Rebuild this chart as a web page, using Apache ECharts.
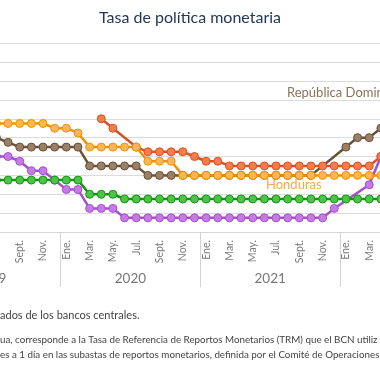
<!DOCTYPE html>
<html>
<head>
<meta charset="utf-8">
<script src="https://cdn.jsdelivr.net/npm/echarts@6/dist/echarts.min.js"></script>
<style>
html,body{margin:0;padding:0;background:#fff;}
#chart{width:380px;height:380px;}
</style>
</head>
<body>
<div id="chart"></div>
<script>
// ---- data ----
var years = ['2019', '2020', '2021', '2022'];
var monthLabels = ['Ene.', 'Feb.', 'Mar.', 'Abr.', 'May.', 'Jun.', 'Jul.', 'Ago.', 'Sept.', 'Oct.', 'Nov.', 'Dic.'];
// monthly values, Jan 2019 .. Dec 2022 (48 months); null = no observation
var costaRica = [
  null, null, null, null, null, null, 4.0, 4.0, 3.75, 3.25, 3.25, 2.75,
  2.25, 2.25, 1.25, 1.25, 1.25, 0.75, 0.75, 0.75, 0.75, 0.75, 0.75, 0.75,
  0.75, 0.75, 0.75, 0.75, 0.75, 0.75, 0.75, 0.75, 0.75, 0.75, 0.75, 1.25,
  null, null, 2.5, 4.0, null, null, null, null, null, null, null, null
];
var guatemala = [
  null, null, null, null, null, null, 2.75, 2.75, 2.75, 2.75, 2.75, 2.75,
  2.75, 2.75, 2.0, 2.0, 2.0, 1.75, 1.75, 1.75, 1.75, 1.75, 1.75, 1.75,
  1.75, 1.75, 1.75, 1.75, 1.75, 1.75, 1.75, 1.75, 1.75, 1.75, 1.75, 1.75,
  1.75, 1.75, 1.75, 1.75, null, null, null, null, null, null, null, null
];
var repDominicana = [
  null, null, null, null, null, null, 5.0, 4.75, 4.5, 4.5, 4.5, 4.5,
  4.5, 4.5, 3.5, 3.5, 3.5, 3.5, 3.5, 3.0, 3.0, 3.0, 3.0, 3.0,
  3.0, 3.0, 3.0, 3.0, 3.0, 3.0, 3.0, 3.0, 3.0, 3.0, null, null,
  4.5, 5.0, 5.0, 5.5, null, null, null, null, null, null, null, null
];
var nicaragua = [
  null, null, null, null, null, null, null, null, null, null, null, null,
  null, null, null, 6.0, 5.5, null, 4.5, 4.25, 4.25, 4.25, 4.25, 4.0,
  3.75, 3.75, 3.5, 3.5, 3.5, 3.5, 3.5, 3.5, 3.5, 3.5, 3.5, 3.5,
  3.5, 3.5, 3.5, 4.0, null, null, null, null, null, null, null, null
];
var honduras = [
  null, null, null, null, null, null, 5.75, 5.75, 5.75, 5.75, 5.75, 5.5,
  5.5, 5.25, 4.5, 4.5, 4.5, 4.5, 4.5, 3.75, 3.75, 3.75, 3.0, 3.0,
  3.0, 3.0, 3.0, 3.0, 3.0, 3.0, 3.0, 3.0, 3.0, 3.0, 3.0, 3.0,
  3.0, 3.0, 3.0, 3.0, null, null, null, null, null, null, null, null
];
var footnotes = [
  'ados de los bancos centrales.',
  'ua, corresponde a la Tasa de Referencia de Reportos Monetarios (TRM) que el BCN utiliz',
  'es a 1 día en las subastas de reportos monetarios, definida por el Comité de Operaciones'
];

// ---- build ----
var categories = [];
years.forEach(function (y) {
  monthLabels.forEach(function (m, i) { categories.push(y + '-' + (i + 1)); });
});

var FONT = 'Lato, "Open Sans", sans-serif';

function mkSeries(name, data, line, fill) {
  return {
    name: name, type: 'line', data: data,
    connectNulls: true, showAllSymbol: true,
    symbol: 'circle', symbolSize: 8,
    lineStyle: { color: line, width: 2.5 },
    itemStyle: { color: fill, borderColor: line, borderWidth: 1 },
    emphasis: { disabled: true },
    xAxisIndex: 0, yAxisIndex: 0
  };
}

var chart = echarts.init(document.getElementById('chart'), null, { renderer: 'canvas' });
chart.setOption({
  animation: false,
  backgroundColor: '#ffffff',
  textStyle: { fontFamily: FONT },
  title: {
    text: 'Tasa de política monetaria', left: 'center', top: 5,
    textStyle: { fontFamily: FONT, fontSize: 16, fontWeight: 'normal', color: '#253858' }
  },
  grid: { left: -79.3, right: -99.9, top: 43.3, bottom: 148, outerBoundsMode: 'none', containLabel: false },
  xAxis: [{
    type: 'category', data: categories, boundaryGap: true, position: 'bottom',
    axisLine: { show: true, lineStyle: { color: '#d4d4d4', width: 1 } },
    axisTick: { show: false },
    splitLine: { show: false },
    axisLabel: {
      interval: 1, rotate: 90, margin: 8, fontSize: 10.5, color: '#7a7a7a', fontFamily: FONT,
      formatter: function (v, idx) { return monthLabels[idx % 12]; }
    }
  }, {
    type: 'category', data: years, boundaryGap: true, position: 'bottom', gridIndex: 0,
    axisLine: { show: false },
    axisTick: { show: true, interval: 0, length: 55, lineStyle: { color: '#d4d4d4', width: 1 } },
    axisLabel: { interval: 0, margin: 40, fontSize: 13.5, color: '#777777', fontFamily: FONT },
    splitLine: { show: false }
  }],
  yAxis: {
    type: 'value', min: 0, max: 10, interval: 1,
    axisLine: { show: false }, axisTick: { show: false }, axisLabel: { show: false },
    splitLine: { show: true, lineStyle: { color: '#dcdcdc', width: 1 } }
  },
  series: [
    mkSeries('Costa Rica', costaRica, '#a350cf', '#c77ae6'),
    mkSeries('Guatemala', guatemala, '#13960f', '#4cc44a'),
    mkSeries('República Dominicana', repDominicana, '#6b5034', '#9a8069'),
    mkSeries('Nicaragua', nicaragua, '#db5126', '#f47d4c'),
    mkSeries('Honduras', honduras, '#f39200', '#fbb65c')
  ],
  graphic: [
    { type: 'text', left: 287, top: 86, style: { text: 'República Dominicana', fill: '#8b7355', font: '13px ' + FONT } },
    { type: 'text', left: 266, top: 178, style: { text: 'Honduras', fill: '#f6a94e', font: '13px ' + FONT } },
    { type: 'text', left: 0, top: 310, style: { text: footnotes[0], fill: '#444444', font: '11px ' + FONT } },
    { type: 'text', left: 0, top: 335, style: { text: footnotes[1], fill: '#444444', font: '9.8px ' + FONT } },
    { type: 'text', left: 0, top: 349.5, style: { text: footnotes[2], fill: '#444444', font: '9.8px ' + FONT } }
  ]
});
</script>
</body>
</html>
